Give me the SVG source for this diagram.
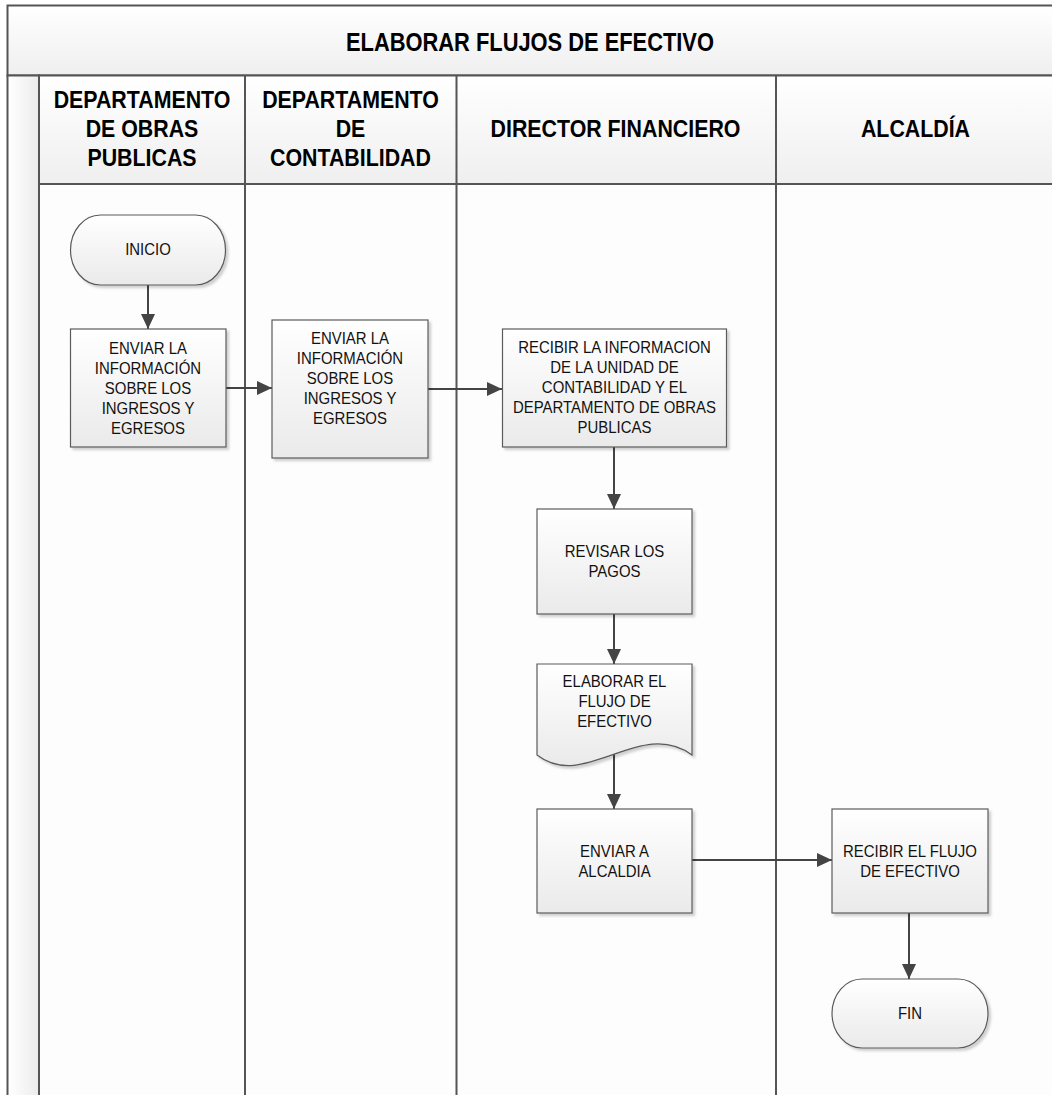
<svg xmlns="http://www.w3.org/2000/svg" width="1052" height="1095" viewBox="0 0 1052 1095">
  <style>
    .frame { stroke: #555; stroke-width: 2; }
    .node { fill: url(#nodeGrad); stroke: #5a5a5a; stroke-width: 1.2; filter: url(#shadow); }
    .conn { fill: none; stroke: #444; stroke-width: 2; }
    .t { font-family: "Liberation Sans", Arial, sans-serif; font-size: 16px; fill: #111; text-anchor: middle; transform-box: fill-box; transform-origin: center; transform: scaleX(0.935); }
    .h { font-family: "Liberation Sans", Arial, sans-serif; font-size: 24px; font-weight: bold; fill: #000; text-anchor: middle; transform-box: fill-box; transform-origin: center; transform: scaleX(0.89); }
    .title { font-family: "Liberation Sans", Arial, sans-serif; font-size: 25px; font-weight: bold; fill: #000; text-anchor: middle; transform-box: fill-box; transform-origin: center; transform: scaleX(0.875); }
  </style>
  <defs>
    <linearGradient id="nodeGrad" x1="0" y1="0" x2="0" y2="1">
      <stop offset="0" stop-color="#ffffff"/>
      <stop offset="1" stop-color="#eaeaea"/>
    </linearGradient>
    <linearGradient id="bandGrad" x1="0" y1="0" x2="0" y2="1">
      <stop offset="0" stop-color="#ffffff"/>
      <stop offset="1" stop-color="#efefef"/>
    </linearGradient>
    <linearGradient id="stripGrad" x1="0" y1="0" x2="1" y2="0">
      <stop offset="0" stop-color="#ffffff"/>
      <stop offset="1" stop-color="#ececec"/>
    </linearGradient>
    <filter id="shadow" x="-10%" y="-10%" width="130%" height="130%">
      <feDropShadow dx="2.5" dy="2.5" stdDeviation="1.2" flood-color="#000" flood-opacity="0.18"/>
    </filter>
    <marker id="arrow" viewBox="0 0 15 14" refX="15" refY="7" markerWidth="15" markerHeight="14" markerUnits="userSpaceOnUse" orient="auto">
      <path d="M0,0 L15,7 L0,14 Z" fill="#444"/>
    </marker>
  </defs>

  <rect x="0" y="0" width="1052" height="1095" fill="#ffffff"/>

  <g id="pool">
    <rect x="7.5" y="5.5" width="1060" height="70" fill="url(#bandGrad)" class="frame"/>
    <text class="title" x="530" y="51">ELABORAR FLUJOS DE EFECTIVO</text>
    <rect x="7.5" y="75.5" width="31.5" height="1030" fill="url(#stripGrad)" class="frame"/>
    <rect x="39" y="75.5" width="1030" height="108.5" fill="url(#bandGrad)" class="frame"/>
    <rect x="39" y="184" width="1030" height="920" fill="#fdfdfd" class="frame"/>
    <line x1="245" y1="75.5" x2="245" y2="1100" class="frame"/>
    <line x1="456.5" y1="75.5" x2="456.5" y2="1100" class="frame"/>
    <line x1="776" y1="75.5" x2="776" y2="1100" class="frame"/>
  </g>

  <g id="lane-headers">
    <text class="h" x="142" y="108.5">DEPARTAMENTO</text>
    <text class="h" x="142" y="137.5">DE OBRAS</text>
    <text class="h" x="142" y="166.5">PUBLICAS</text>
    <text class="h" x="350.5" y="108.5">DEPARTAMENTO</text>
    <text class="h" x="350.5" y="137.5">DE</text>
    <text class="h" x="350.5" y="166.5">CONTABILIDAD</text>
    <text class="h" x="615.5" y="137.5">DIRECTOR FINANCIERO</text>
    <text class="h" x="915.5" y="137.5">ALCALDÍA</text>
  </g>

  <g id="connectors">
    <line class="conn" x1="148" y1="285" x2="148" y2="329" marker-end="url(#arrow)"/>
    <line class="conn" x1="226" y1="388" x2="272" y2="388" marker-end="url(#arrow)"/>
    <line class="conn" x1="428" y1="389" x2="502" y2="389" marker-end="url(#arrow)"/>
    <line class="conn" x1="614" y1="447" x2="614" y2="509" marker-end="url(#arrow)"/>
    <line class="conn" x1="614" y1="614" x2="614" y2="664" marker-end="url(#arrow)"/>
    <line class="conn" x1="614" y1="754" x2="614" y2="809" marker-end="url(#arrow)"/>
    <line class="conn" x1="692" y1="860" x2="832" y2="860" marker-end="url(#arrow)"/>
    <line class="conn" x1="909" y1="913" x2="909" y2="979" marker-end="url(#arrow)"/>
  </g>

  <g id="inicio">
    <rect class="node" x="70.5" y="215" width="155" height="70" rx="30" ry="35"/>
    <text class="t" x="148" y="255">INICIO</text>
  </g>

  <g id="enviar-info-obras">
    <rect class="node" x="70.5" y="329" width="155.5" height="118"/>
    <text class="t" x="148" y="354">ENVIAR LA</text>
    <text class="t" x="148" y="374">INFORMACIÓN</text>
    <text class="t" x="148" y="394">SOBRE LOS</text>
    <text class="t" x="148" y="414">INGRESOS Y</text>
    <text class="t" x="148" y="434">EGRESOS</text>
  </g>

  <g id="enviar-info-contabilidad">
    <rect class="node" x="272" y="320" width="156" height="138"/>
    <text class="t" x="350" y="344">ENVIAR LA</text>
    <text class="t" x="350" y="364">INFORMACIÓN</text>
    <text class="t" x="350" y="384">SOBRE LOS</text>
    <text class="t" x="350" y="404">INGRESOS Y</text>
    <text class="t" x="350" y="424">EGRESOS</text>
  </g>

  <g id="recibir-info">
    <rect class="node" x="502.5" y="329" width="224" height="118"/>
    <text class="t" x="614.5" y="353">RECIBIR LA INFORMACION</text>
    <text class="t" x="614.5" y="373">DE LA UNIDAD DE</text>
    <text class="t" x="614.5" y="393">CONTABILIDAD Y EL</text>
    <text class="t" x="614.5" y="413">DEPARTAMENTO DE OBRAS</text>
    <text class="t" x="614.5" y="433">PUBLICAS</text>
  </g>

  <g id="revisar-pagos">
    <rect class="node" x="537" y="509" width="155" height="105"/>
    <text class="t" x="614.5" y="557">REVISAR LOS</text>
    <text class="t" x="614.5" y="577">PAGOS</text>
  </g>

  <g id="elaborar-flujo">
    <path class="node" d="M537,664 H692 V755 C640,717 585,792 537,755 Z"/>
    <text class="t" x="614.5" y="687">ELABORAR EL</text>
    <text class="t" x="614.5" y="707">FLUJO DE</text>
    <text class="t" x="614.5" y="727">EFECTIVO</text>
  </g>

  <g id="enviar-alcaldia">
    <rect class="node" x="537" y="809" width="155" height="104"/>
    <text class="t" x="614.5" y="857">ENVIAR A</text>
    <text class="t" x="614.5" y="877">ALCALDIA</text>
  </g>

  <g id="recibir-flujo">
    <rect class="node" x="832" y="809" width="156" height="104"/>
    <text class="t" x="910" y="857">RECIBIR EL FLUJO</text>
    <text class="t" x="910" y="877">DE EFECTIVO</text>
  </g>

  <g id="fin">
    <rect class="node" x="832" y="979" width="156" height="69" rx="30" ry="34.5"/>
    <text class="t" x="910" y="1019">FIN</text>
  </g>
</svg>
